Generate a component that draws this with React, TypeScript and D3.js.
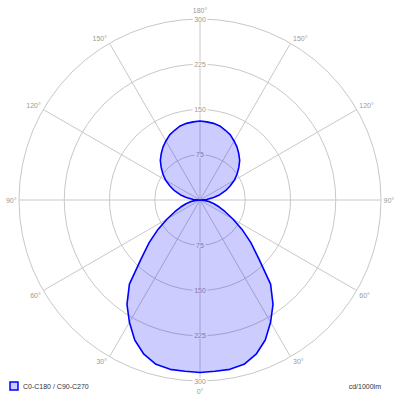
import { useEffect, useRef } from 'react';
import * as d3 from 'd3';

// gamma angles (0 = straight down, 180 = straight up)
const gammas = [
  0, 5, 10, 15, 20, 25, 30, 35, 40, 45, 50, 55, 60, 65, 70, 75, 80, 85, 90,
  95, 100, 105, 110, 115, 120, 125, 130, 135, 140, 145, 150, 155, 160, 165, 170, 175, 180,
];

// luminous intensity cd/1000lm, C0-C180 / C90-C270 (same curve)
const intensities = [
  286, 285, 285, 282, 272, 256, 234, 211, 182, 138, 110, 85, 63, 46, 34, 24, 15, 7, 0,
  11, 23, 34, 45, 55, 66, 75, 84, 93, 100, 107, 113, 119, 123, 127, 129, 130, 131,
];

const ringValues = [75, 150, 225, 300];
const spokeAngles = [0, 30, 60, 90, 120, 150, 180, 210, 240, 270, 300, 330];
const legendLabel = 'C0-C180 / C90-C270';
const unitLabel = 'cd/1000lm';

export default function App() {
  const svgRef = useRef<SVGSVGElement>(null);

  useEffect(() => {
    if (!svgRef.current) return;
    const width = 400;
    const height = 400;
    const cx = 200;
    const cy = 200;
    const R = 181;
    const font = "'Liberation Sans', Arial, sans-serif";
    const gridColor = '#c8c8c8';
    const textColor = '#9a9a9a';

    d3.select(svgRef.current).selectAll('*').remove();
    const svg = d3.select(svgRef.current).attr('width', width).attr('height', height);

    const rScale = d3.scaleLinear().domain([0, 300]).range([0, R]);

    const g = svg.append('g').attr('transform', `translate(${cx},${cy})`);

    // rings
    g.selectAll('.ring')
      .data(ringValues)
      .enter()
      .append('circle')
      .attr('r', (d) => rScale(d))
      .attr('fill', 'none')
      .attr('stroke', gridColor)
      .attr('stroke-width', 1);

    // spokes, angle measured from the downward axis
    const rad = (deg: number) => (deg * Math.PI) / 180;
    g.selectAll('.spoke')
      .data(spokeAngles)
      .enter()
      .append('line')
      .attr('x1', 0)
      .attr('y1', 0)
      .attr('x2', (d) => -R * Math.sin(rad(d)))
      .attr('y2', (d) => R * Math.cos(rad(d)))
      .attr('stroke', gridColor)
      .attr('stroke-width', 1);

    // angle labels
    spokeAngles.forEach((a) => {
      const ex = -R * Math.sin(rad(a));
      const ey = R * Math.cos(rad(a));
      const label = a <= 180 ? a : 360 - a;
      let x = ex;
      let y = ey;
      let anchor = 'middle';
      if (label === 0) y = ey + 10;
      else if (label === 180) y = ey - 9;
      else {
        const left = a < 180;
        anchor = left ? 'end' : 'start';
        x = ex + (left ? -2.5 : 2.5);
        y = ey + (label > 90 ? -4.5 : label < 90 ? 4.5 : 0);
      }
      g.append('text')
        .attr('x', x)
        .attr('y', y)
        .attr('text-anchor', anchor)
        .attr('dominant-baseline', 'central')
        .style('font-family', font)
        .style('font-size', '7px')
        .style('fill', textColor)
        .text(`${label}°`);
    });

    // ring value labels along the vertical axis (top and bottom)
    [-1, 1].forEach((dir) => {
      ringValues.forEach((v) => {
        const lg = g.append('g').attr('transform', `translate(0,${dir * rScale(v)})`);
        const t = lg
          .append('text')
          .attr('text-anchor', 'middle')
          .attr('dominant-baseline', 'central')
          .style('font-family', font)
          .style('font-size', '7px')
          .style('fill', textColor)
          .text(v);
        const bb = (t.node() as SVGTextElement).getBBox();
        lg.insert('rect', 'text')
          .attr('x', bb.x - 1.5)
          .attr('y', bb.y + 0.5)
          .attr('width', bb.width + 3)
          .attr('height', bb.height - 1)
          .attr('fill', '#ffffff');
      });
    });

    // full curve: left half gamma 0..180, right half mirrored back
    const pts: [number, number][] = [];
    gammas.forEach((gm, i) => pts.push([Math.PI + rad(gm), rScale(intensities[i])]));
    for (let i = gammas.length - 2; i > 0; i--) {
      pts.push([Math.PI + rad(360 - gammas[i]), rScale(intensities[i])]);
    }
    const line = d3
      .lineRadial<[number, number]>()
      .angle((d) => d[0])
      .radius((d) => d[1])
      .curve(d3.curveLinearClosed);

    g.append('path')
      .attr('d', line(pts) || '')
      .attr('fill', 'rgba(0,0,255,0.2)')
      .attr('stroke', '#0000ff')
      .attr('stroke-width', 1.6)
      .attr('stroke-linejoin', 'round');

    // legend
    svg
      .append('rect')
      .attr('x', 10)
      .attr('y', 382)
      .attr('width', 8)
      .attr('height', 8)
      .attr('fill', '#ccccff')
      .attr('stroke', '#0000ff')
      .attr('stroke-width', 1.5);
    svg
      .append('text')
      .attr('x', 23)
      .attr('y', 386)
      .attr('dominant-baseline', 'central')
      .style('font-family', font)
      .style('font-size', '7px')
      .style('fill', '#333333')
      .text(legendLabel);
    svg
      .append('text')
      .attr('x', 381)
      .attr('y', 386)
      .attr('text-anchor', 'end')
      .attr('dominant-baseline', 'central')
      .style('font-family', font)
      .style('font-size', '7px')
      .style('fill', '#333333')
      .text(unitLabel);
  }, []);

  return (
    <div style={{ position: 'absolute', left: 0, top: 0, width: 400, height: 400, background: '#fff' }}>
      <svg ref={svgRef} style={{ display: 'block' }} />
    </div>
  );
}
